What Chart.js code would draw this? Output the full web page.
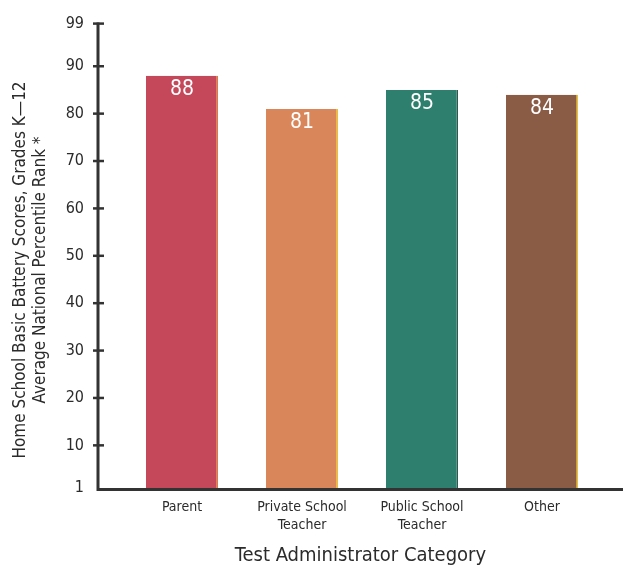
<!DOCTYPE html>
<html>
<head>
<meta charset="utf-8">
<script src="https://cdn.jsdelivr.net/npm/chart.js@4/dist/chart.umd.min.js"></script>
<style>
  html, body { margin: 0; padding: 0; background: #fff; }
  #wrap { width: 623px; height: 569px; position: relative; }
</style>
</head>
<body>
<div id="wrap"><canvas id="c" width="623" height="569"></canvas></div>
<script>
const categories = [["Parent"], ["Private School", "Teacher"], ["Public School", "Teacher"], ["Other"]];
const scores = [88, 81, 85, 84];
const yTicks = [1, 10, 20, 30, 40, 50, 60, 70, 80, 90, 99];
const barColors = ["#c5475a", "#d9875a", "#2f7f6e", "#8a5c46"];
const edgeColors = ["#e07a3a", "#f0c020", "#2a5a50", "#f0c020"];
const yTitleLines = ["Home School Basic Battery Scores, Grades K\u201412", "Average National Percentile Rank *"];
const xTitle = "Test Administrator Category";

const FONT = "'Liberation Sans Narrow', 'DejaVu Sans Condensed', 'Roboto Condensed', sans-serif";
const INK = "#2b2b2b";

const axesPlugin = {
  id: 'axesPlugin',
  afterDatasetsDraw(chart) {
    const ctx = chart.ctx;
    const ca = chart.chartArea;
    const y = chart.scales.y;
    ctx.save();
    ctx.strokeStyle = "#333";
    ctx.lineWidth = 3;
    ctx.lineCap = "butt";
    ctx.beginPath();
    ctx.moveTo(ca.left, y.getPixelForValue(99) - 1);
    ctx.lineTo(ca.left, ca.bottom + 1.5);
    ctx.lineTo(ca.right, ca.bottom + 1.5);
    ctx.stroke();
    ctx.lineWidth = 2.5;
    yTicks.forEach(v => {
      if (v === 1) return;
      const py = y.getPixelForValue(v);
      ctx.beginPath();
      ctx.moveTo(ca.left - 5, py);
      ctx.lineTo(ca.left + 6, py);
      ctx.stroke();
    });
    // value labels
    ctx.fillStyle = "#fff";
    ctx.font = "21px " + FONT;
    ctx.textAlign = "center";
    ctx.textBaseline = "top";
    const meta = chart.getDatasetMeta(0);
    meta.data.forEach((bar, i) => {
      ctx.fillText(String(scores[i]), bar.x, bar.y + 3);
    });
    // titles
    ctx.fillStyle = INK;
    ctx.font = "17px " + FONT;
    ctx.textBaseline = "middle";
    ctx.save();
    ctx.translate(0, 270);
    ctx.rotate(-Math.PI / 2);
    ctx.fillText(yTitleLines[0], 0, 21);
    ctx.fillText(yTitleLines[1], 0, 41);
    ctx.restore();
    ctx.font = "20px " + FONT;
    ctx.fillText(xTitle, (ca.left + ca.right) / 2, 556);
    ctx.restore();
  }
};

new Chart(document.getElementById('c'), {
  type: 'bar',
  data: {
    datasets: [{
      data: scores.map((v, i) => ({ x: i, y: v })),
      backgroundColor: barColors,
      borderColor: edgeColors,
      borderWidth: { left: 0, top: 0, bottom: 0, right: 1.5 },
      borderSkipped: false,
      barPercentage: 0.6,
      categoryPercentage: 1.0
    }]
  },
  options: {
    responsive: false,
    animation: false,
    events: [],
    layout: { padding: { top: 20, right: 0, left: 0, bottom: 0 } },
    plugins: { legend: { display: false }, tooltip: { enabled: false } },
    scales: {
      x: {
        type: 'linear',
        offset: false,
        min: -0.7,
        max: 3.675,
        afterBuildTicks: s => { s.ticks = categories.map((c, i) => ({ value: i })); },
        afterFit: s => { s.height = 81; },
        grid: { display: false, drawTicks: false, offset: false },
        border: { display: false },
        ticks: {
          autoSkip: false,
          maxRotation: 0,
          padding: 11,
          color: INK,
          font: { family: FONT, size: 14, lineHeight: 1.25 },
          callback: v => categories[v]
        }
      },
      y: {
        min: 1,
        max: 99,
        afterBuildTicks: s => { s.ticks = yTicks.map(v => ({ value: v })); },
        afterFit: s => { s.width = 98; },
        grid: { display: false, drawTicks: false },
        border: { display: false },
        ticks: {
          padding: 14,
          color: INK,
          font: { family: FONT, size: 16 }
        }
      }
    }
  },
  plugins: [axesPlugin]
});
</script>
</body>
</html>
